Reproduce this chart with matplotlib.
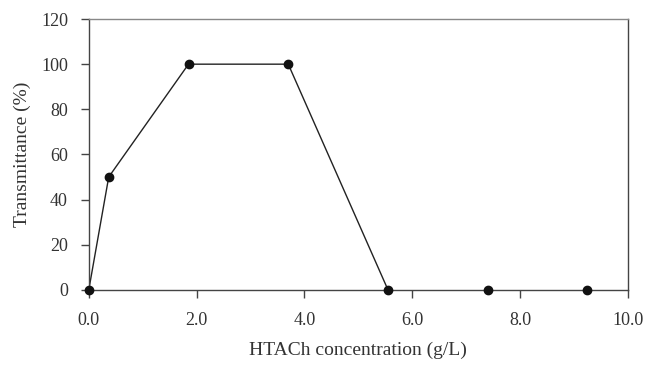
import matplotlib
matplotlib.use("Agg")
import matplotlib.pyplot as plt

# HTACh concentration (g/L) vs transmittance (%)
conc = [0.0, 0.37, 1.85, 3.7, 5.55, 7.4, 9.25]
trans = [0, 50, 100, 100, 0, 0, 0]
n_joined = 5  # the first five points are joined by a line

x_ticks = [0, 2, 4, 6, 8, 10]
y_ticks = [0, 20, 40, 60, 80, 100, 120]

plt.rcParams['font.family'] = ['Liberation Serif', 'DejaVu Serif']
plt.rcParams['font.size'] = 13

fig = plt.figure(figsize=(6.48, 3.66), dpi=100)
ax = fig.add_axes([0.137, 0.208, 0.832, 0.74])

ax.plot(conc[:n_joined], trans[:n_joined], color='#222222', lw=1.0, zorder=2)
ax.plot(conc, trans, 'o', color='#111111', ms=6, zorder=3, clip_on=False)

ax.set_xlim(0, 10)
ax.set_ylim(0, 120)
ax.set_xticks(x_ticks)
ax.set_xticklabels(['%.1f' % v for v in x_ticks])
ax.set_yticks(y_ticks)

for s in ax.spines.values():
    s.set_color('#444444')
    s.set_linewidth(1.0)
ax.spines['top'].set_color('#888888')

ax.tick_params(direction='out', length=6, width=1, color='#444444',
               labelcolor='#333333')
ax.tick_params(axis='y', pad=9)
ax.tick_params(axis='x', pad=10)

ax.set_xlabel('HTACh concentration (g/L)', color='#333333', fontsize=14,
              labelpad=9)
ax.set_ylabel('Transmittance (%)', color='#333333', fontsize=14, labelpad=7)

fig.savefig('out.png', dpi=100)
